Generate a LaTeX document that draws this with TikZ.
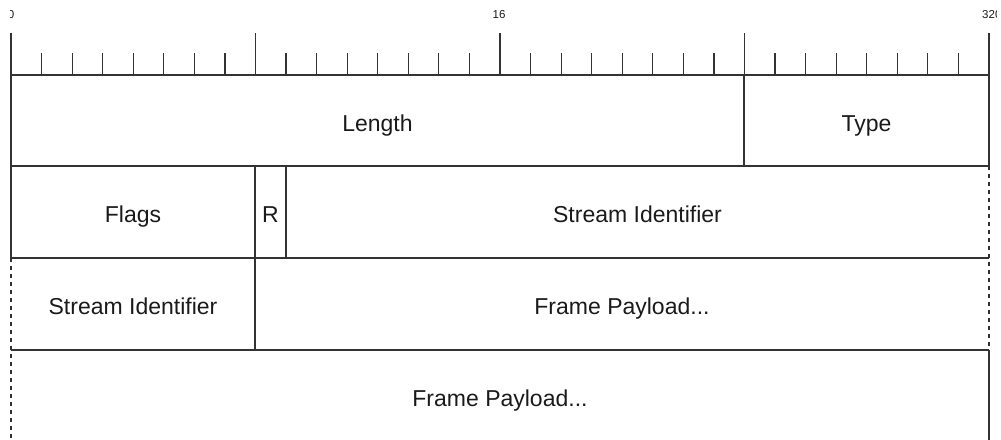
\documentclass[tikz,border=0pt]{standalone}
\usepackage{fontspec}
\setmainfont{Liberation Sans}
\definecolor{linec}{HTML}{333333}
\definecolor{textc}{HTML}{1A1A1A}
\begin{document}
\begin{tikzpicture}[x=1pt,y=-1pt,
  field/.style={inner sep=0pt, minimum height=91pt, text height=21pt, text depth=0pt, text=textc, font=\fontsize{23}{26}\selectfont},
  border/.style={draw=linec, line width=1.5pt},
  dashedge/.style={draw=linec, line width=1.5pt, dash pattern=on 4pt off 4pt},
  tick/.style={draw=linec, line width=1.2pt},
  rulerlabel/.style={inner sep=0pt, anchor=base, text=textc, font=\fontsize{11.5}{13}\selectfont}]
\useasboundingbox (0,0) rectangle (1001,439);
% ruler labels
\begin{scope}
  \clip (10.5,0) rectangle (996,30);
  \node[rulerlabel] (l0) at (11,18.3) {0};
  \node[rulerlabel] (l16) at (499,18.3) {16};
  \node[rulerlabel, anchor=base west] (l32) at (982,18.3) {320};
\end{scope}
% ruler ticks
\foreach \i in {0,...,32} {
  \pgfmathsetmacro{\xx}{11+\i*30.5625}
  \pgfmathsetmacro{\yy}{ifthenelse(mod(\i,8)==0,33,53)}
  \draw[tick] (\xx,\yy) -- (\xx,75);
}
% fields
\node[field, minimum width=733pt] (len) at (377.5,120.5) {Length};
\node[field, minimum width=245pt] (type) at (866.5,120.5) {Type};
\node[field, minimum width=244pt, minimum height=92pt] (flags) at (133,212) {Flags};
\node[field, minimum width=31pt, minimum height=92pt] (r) at (270.5,212) {R};
\node[field, minimum width=703pt, minimum height=92pt] (sid1) at (637.5,212) {Stream Identifier};
\node[field, minimum width=244pt, minimum height=92pt] (sid2) at (133,304) {Stream Identifier};
\node[field, minimum width=734pt, minimum height=92pt] (fp1) at (622,304) {Frame Payload...};
\node[field, minimum width=978pt, minimum height=91pt] (fp2) at (500,395.5) {Frame Payload...};
% horizontal borders
\draw[border] (len.north west) -- (type.north east);
\draw[border] (flags.north west) -- (sid1.north east);
\draw[border] (sid2.north west) -- (fp1.north east);
\draw[border] (fp2.north west) -- (fp2.north east);
% inner verticals
\draw[border] (len.north east) -- (len.south east);
\draw[border] (flags.north east) -- (sid2.south east);
\draw[border] (r.north east) -- (r.south east);
% outer edges
\draw[border] (len.north west) -- (flags.south west);
\draw[dashedge] (sid2.north west) -- (fp2.south west);
\draw[border] (type.north east) -- (type.south east);
\draw[dashedge] (sid1.north east) -- (fp1.south east);
\draw[border] (fp2.north east) -- (fp2.south east);
\end{tikzpicture}
\end{document}
